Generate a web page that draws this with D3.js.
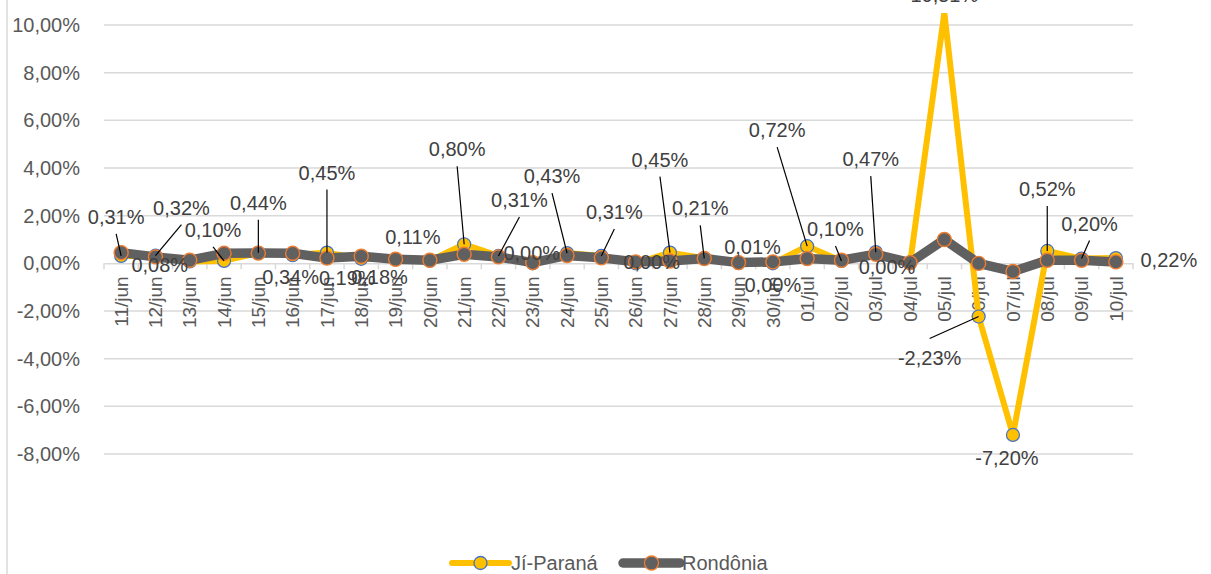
<!DOCTYPE html>
<html>
<head>
<meta charset="utf-8">
<script src="https://cdn.jsdelivr.net/npm/d3@7"></script>
<style>
  body { margin: 0; background: #fff; }
  svg { display: block; font-family: "Liberation Sans", Arial, sans-serif; }
</style>
</head>
<body>
<div id="chart"></div>
<script>
// datas (variação diária, em %)
var dias = ["11/jun","12/jun","13/jun","14/jun","15/jun","16/jun","17/jun","18/jun","19/jun","20/jun",
            "21/jun","22/jun","23/jun","24/jun","25/jun","26/jun","27/jun","28/jun","29/jun","30/jun",
            "01/jul","02/jul","03/jul","04/jul","05/jul","06/jul","07/jul","08/jul","09/jul","10/jul"];
var jiParana = [0.31,0.32,0.08,0.10,0.44,0.34,0.45,0.19,0.18,0.11,
                0.80,0.31,0.00,0.43,0.31,0.00,0.45,0.21,0.01,0.00,
                0.72,0.10,0.47,0.00,10.51,-2.23,-7.20,0.52,0.20,0.22];
var rondonia = [0.45,0.27,0.13,0.42,0.43,0.42,0.22,0.30,0.17,0.13,
                0.38,0.27,0.03,0.33,0.23,0.06,0.10,0.20,0.03,0.06,
                0.20,0.13,0.38,0.03,1.00,0.00,-0.34,0.13,0.13,0.06];
var yTicks = [-8,-6,-4,-2,0,2,4,6,8,10];
var series = ["Jí-Paraná","Rondônia"];

// posição dos rótulos (deslocamento a partir do ponto) e linhas de chamada
var labelDx = [-5,26,-30,-11,0,-2,0,-14,-16,-17, -7,21,-1,-15,13,16,-10,-4,14,0, -30,-6,-5,-23,0,-49,-6,0,8,53];
var labelDy = [-39,-48,4,-31,-50,22,-80,19,18,-24, -95,-56,-10,-77,-44,-1,-93,-50,-16,22, -116,-32,-93,4,-18,42,23,-62,-35,2];
var leader  = [1,1,0,1,1,0,1,0,0,0, 1,1,0,1,1,0,1,1,0,0, 1,1,1,0,0,1,0,1,1,0];

var W = 1211, H = 574;
var left = 104, right = 1133, plotTop = 13;

var svg = d3.select("#chart").append("svg").attr("width", W).attr("height", H);

var x = d3.scaleBand().domain(dias).range([left, right]);
var y = d3.scaleLinear().domain([-8, 10]).range([454, 25]);
var fmt = v => d3.format(".2f")(v).replace(".", ",").replace("\u2212", "-") + "%";

// borda esquerda
svg.append("line").attr("x1", 7).attr("x2", 7).attr("y1", 0).attr("y2", H)
  .attr("stroke", "#d9d9d9").attr("stroke-width", 1.5);

// grade
svg.append("g").selectAll("line").data(yTicks.filter(d => d != 0)).join("line")
  .attr("x1", left).attr("x2", right)
  .attr("y1", d => y(d)).attr("y2", d => y(d))
  .attr("stroke", "#d9d9d9").attr("stroke-width", 1.5);

// eixo y
var yAxis = svg.append("g").attr("transform", `translate(${left - 21},0)`)
  .call(d3.axisLeft(y).tickValues(yTicks).tickSize(0).tickFormat(fmt));
yAxis.select(".domain").remove();
yAxis.selectAll("text").attr("fill", "#595959").style("font-size", "20px")
  .style("font-family", "Liberation Sans, Arial, sans-serif");

// eixo x (linha do zero com marcas entre categorias)
var xAxis = svg.append("g").attr("transform", `translate(0,${y(0)})`)
  .call(d3.axisBottom(x).tickSize(0).tickFormat(d => d));
xAxis.select(".domain").attr("stroke", "#d9d9d9").attr("stroke-width", 1.5);
xAxis.selectAll(".tick text")
  .attr("fill", "#595959").style("font-size", "19px")
  .style("font-family", "Liberation Sans, Arial, sans-serif")
  .attr("text-anchor", "end")
  .attr("transform", "translate(0,13) rotate(-90)")
  .attr("x", 0).attr("y", 0).attr("dy", "0.35em");
svg.append("g").selectAll("line").data(d3.range(dias.length + 1)).join("line")
  .attr("x1", i => left + i * x.bandwidth()).attr("x2", i => left + i * x.bandwidth())
  .attr("y1", y(0)).attr("y2", y(0) + 6)
  .attr("stroke", "#d9d9d9").attr("stroke-width", 1.5);

// área de plotagem cortada no topo
svg.append("clipPath").attr("id", "clip").append("rect")
  .attr("x", 0).attr("y", plotTop).attr("width", W).attr("height", H);
var plot = svg.append("g").attr("clip-path", "url(#clip)");
var cx = d => x(d) + x.bandwidth() / 2;
var inPlot = d => y(d) - 7 > plotTop;

var line = d3.line().x((d, i) => cx(dias[i])).y(d => y(d));

plot.append("path").datum(jiParana).attr("d", line)
  .attr("fill", "none").attr("stroke", "#FFC000").attr("stroke-width", 6).attr("stroke-linejoin", "round");
plot.append("g").selectAll("circle").data(jiParana.map((v, i) => [v, i]).filter(d => inPlot(d[0]))).join("circle")
  .attr("cx", d => cx(dias[d[1]])).attr("cy", d => y(d[0])).attr("r", 6.5)
  .attr("fill", "#FFC000").attr("stroke", "#4472C4").attr("stroke-width", 1.2);

plot.append("path").datum(rondonia).attr("d", line)
  .attr("fill", "none").attr("stroke", "#606060").attr("stroke-width", 9.5).attr("stroke-linejoin", "round");
plot.append("g").selectAll("circle").data(rondonia).join("circle")
  .attr("cx", (d, i) => cx(dias[i])).attr("cy", d => y(d)).attr("r", 7)
  .attr("fill", "#606060").attr("stroke", "#ED7D31").attr("stroke-width", 1.4);

// rótulos de dados (Jí-Paraná)
var labs = jiParana.map((v, i) => {
  var px = cx(dias[i]), py = y(v);
  return {v: v, px: px, py: py, lx: px + labelDx[i], ly: py + labelDy[i], lead: leader[i]};
});
svg.append("g").selectAll("line").data(labs.filter(d => d.lead)).join("line")
  .attr("x1", d => d.lx).attr("y1", d => d.ly < d.py ? d.ly + 17 : d.ly - 20)
  .attr("x2", d => d.px).attr("y2", d => d.py)
  .attr("stroke", "#000").attr("stroke-width", 1.2);
svg.append("g").selectAll("text").data(labs).join("text")
  .attr("x", d => d.lx).attr("y", d => d.ly)
  .attr("text-anchor", "middle").attr("dominant-baseline", "central")
  .attr("fill", "#404040").style("font-size", "20px")
  .text(d => fmt(d.v));

// legenda
var leg = svg.append("g").attr("transform", "translate(0,563)");
var legX = [452, 623];
var legStyle = [{c: "#FFC000", w: 6, r: 6.5, s: "#4472C4"}, {c: "#606060", w: 9.5, r: 7, s: "#ED7D31"}];
series.forEach((name, i) => {
  var g = leg.append("g").attr("transform", `translate(${legX[i]},0)`);
  g.append("line").attr("x1", 0).attr("x2", 57).attr("y1", 0).attr("y2", 0)
    .attr("stroke", legStyle[i].c).attr("stroke-width", legStyle[i].w).attr("stroke-linecap", "round");
  g.append("circle").attr("cx", 28.5).attr("cy", 0).attr("r", legStyle[i].r)
    .attr("fill", legStyle[i].c).attr("stroke", legStyle[i].s).attr("stroke-width", 1.3);
  g.append("text").attr("x", 59).attr("y", 0).attr("dominant-baseline", "central")
    .attr("fill", "#595959").style("font-size", "20px").text(name);
});
</script>
</body>
</html>
